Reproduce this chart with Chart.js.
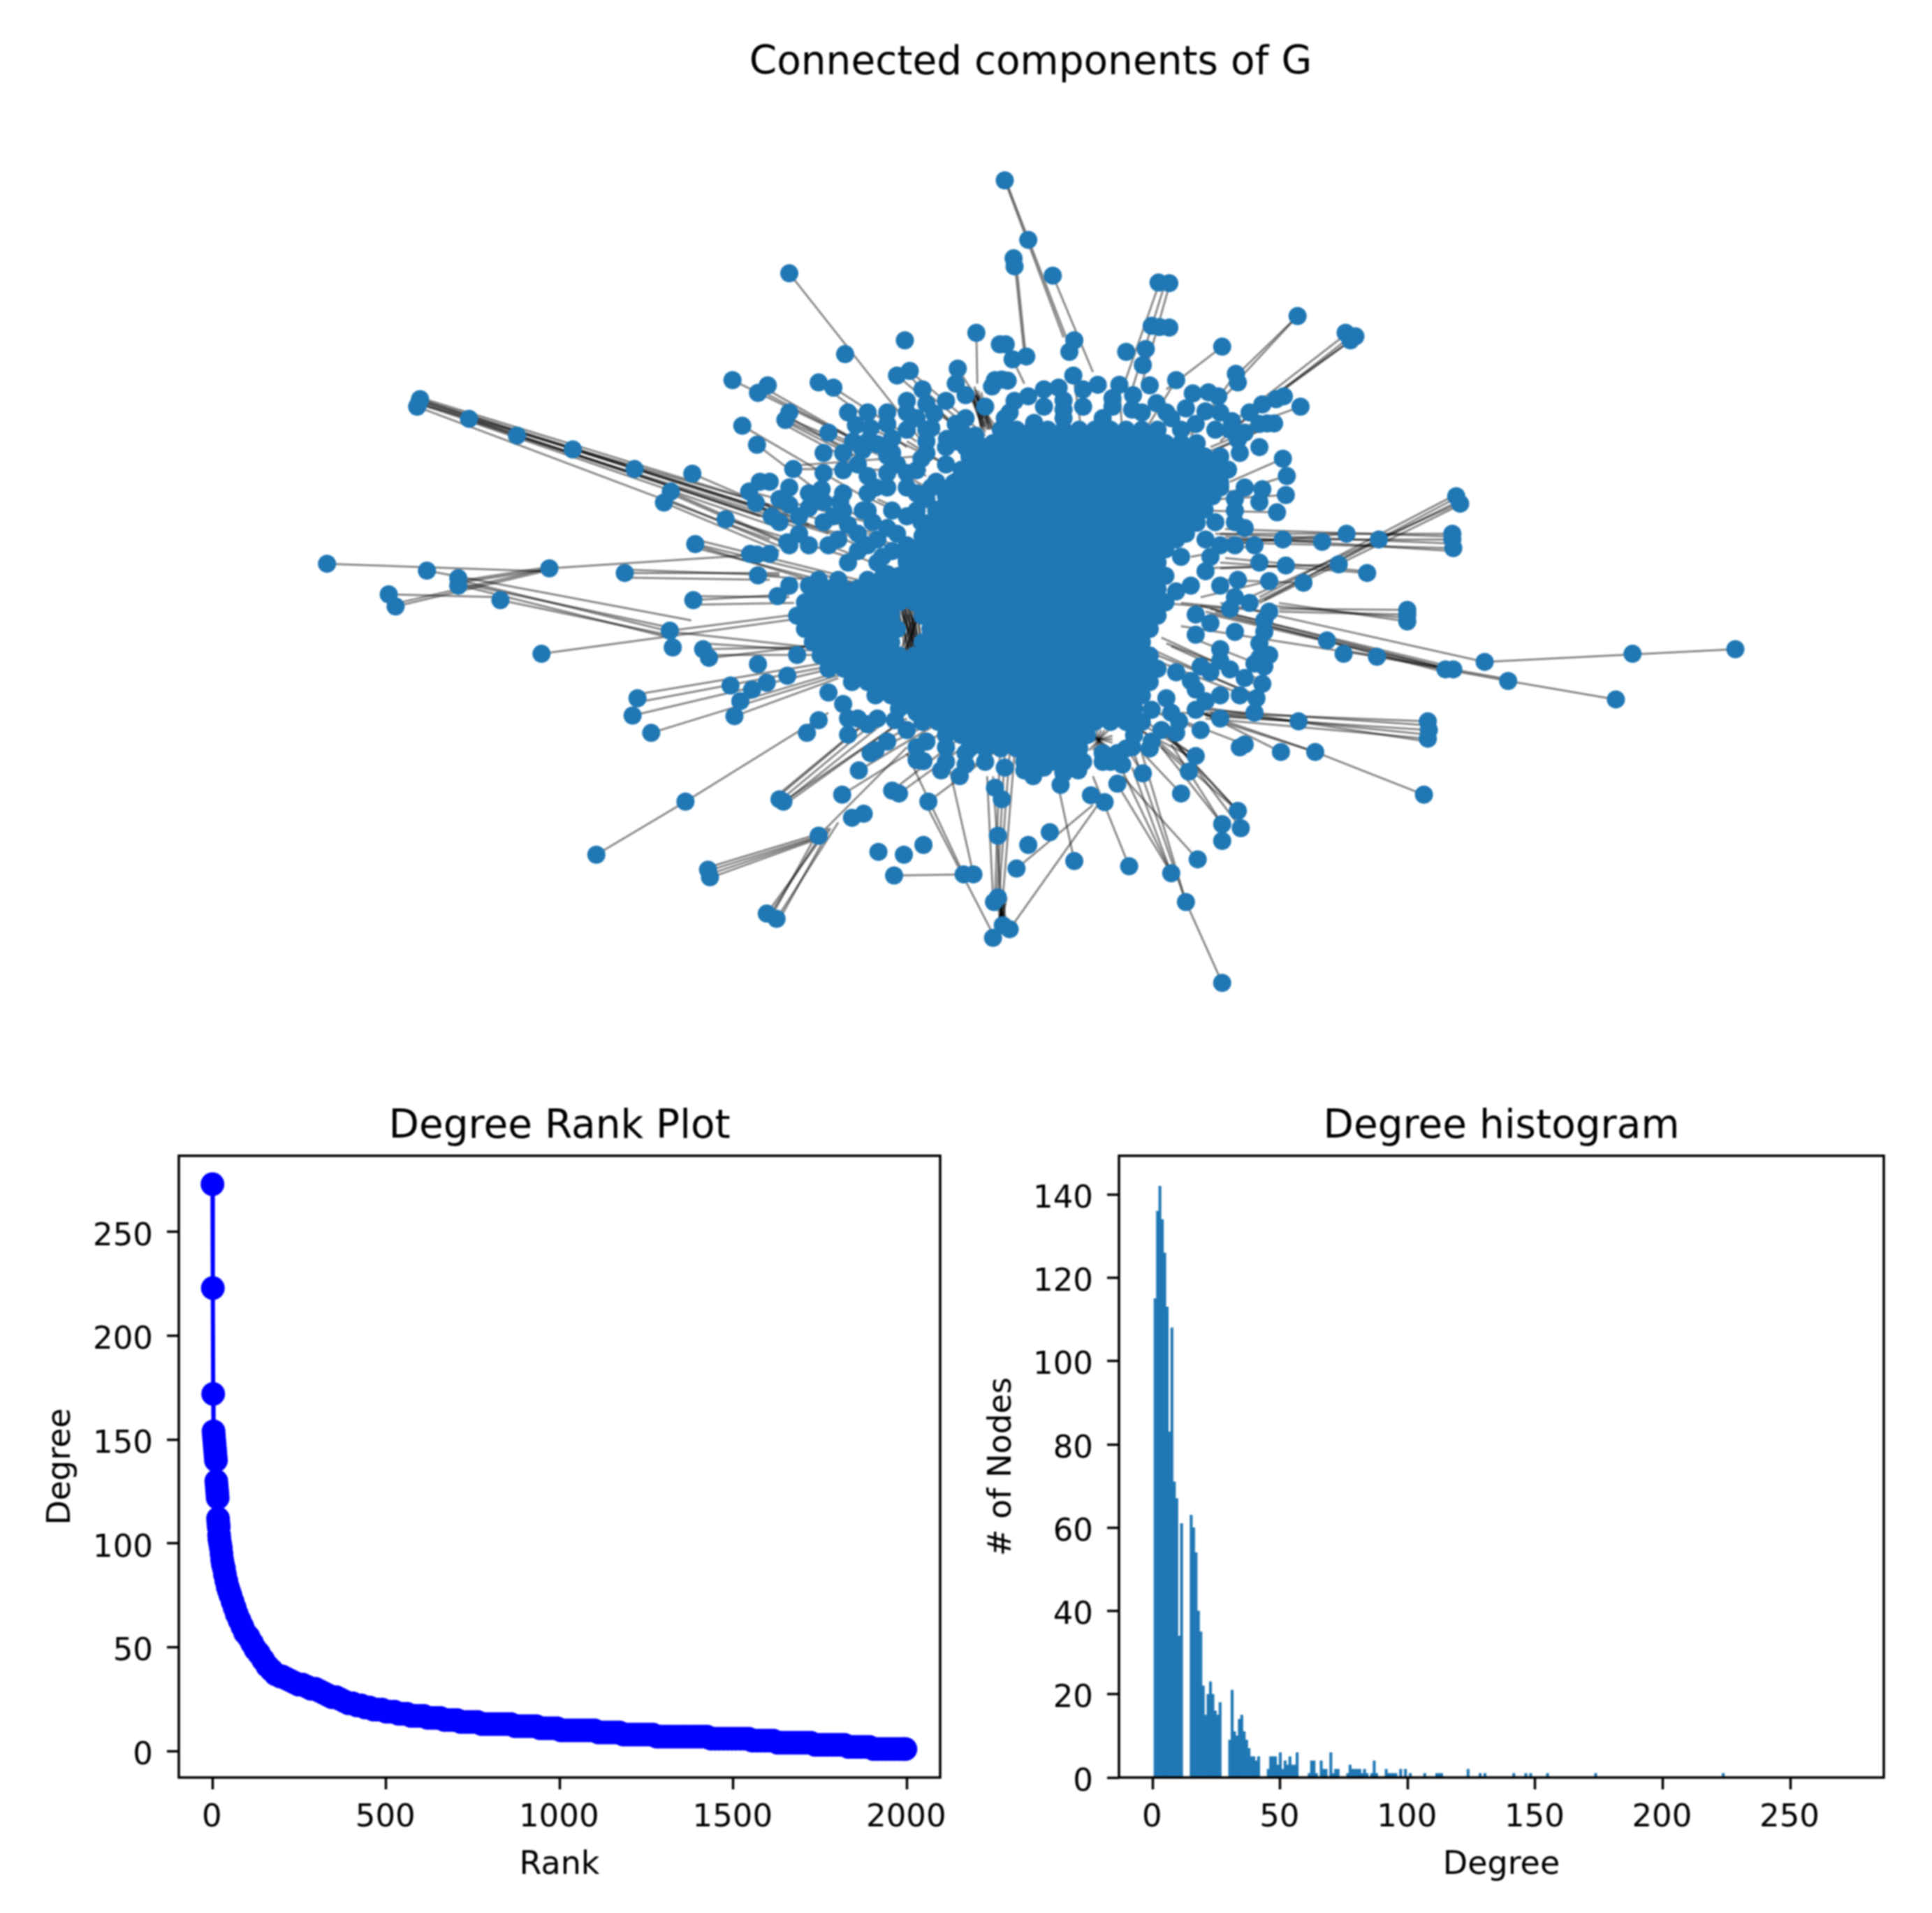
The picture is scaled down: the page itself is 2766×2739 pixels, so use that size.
<!DOCTYPE html>
<html lang="en">
<head>
<meta charset="UTF-8">
<title>Degree analysis</title>
<style>
  html,body{margin:0;background:#fff}
  canvas{position:absolute;filter:blur(0.8px)}
  #netChart{left:0;top:0}
  #rankChart{left:0;top:1560px}
  #histChart{left:1400px;top:1560px}
</style>
</head>
<body>
<canvas id="netChart" width="2766" height="1560"></canvas>
<canvas id="rankChart" width="1400" height="1179"></canvas>
<canvas id="histChart" width="1366" height="1179"></canvas>
<script src="https://cdn.jsdelivr.net/npm/chart.js"></script>
<script>
// network layout units
const outerNodes=[[740,68],[764,171],[749,203],[750,217],[789,233],[520,229],[897,245],[908,246],[1039,303],[1088,332],[1098,338],[1093,345],
[711,332],[638,345],[735,352],[741,352],[811,345],[806,365],[962,356],[864,365],[884,360],[890,320],[898,322],[908,323],[748,378],[762,373],[881,388],[577,369],
[692,394],[643,398],[630,406],[976,403],[978,418],[737,413],[743,415],[730,414],[915,414],[462,414],[498,423],[488,436],[550,418],[565,427],[656,430],
[810,406],[795,427],[835,422],[857,422],[888,423],[932,437],[948,435],[958,442],[925,463],[945,468],[1042,460],[1025,442],[1003,456],[1017,447],[1015,489],[1008,489],
[972,485],[978,517],[764,442],[727,425],[800,449],[871,440],[895,454],[472,493],[487,526],[516,483],[520,470],[588,492],[603,497],[560,505],[665,497],[668,472],
[681,516],[710,510],[740,480],[770,488],[800,480],[840,480],[920,500],[1024,550],[1028,580],[1027,613],[1003,603],[1018,643],
[143,447],[140,460],[142,453],[193,481],[242,510],[299,534],[362,568],[421,576],[524,568],[399,607],[392,626],[479,607],[486,627],[455,655],[502,650],[520,630],
[553,603],[572,625],[595,535],[625,540],[650,570],[600,580],[424,698],[518,695],[487,716],[488,752],[540,700],[590,560],[620,545],[640,575],[608,600],[575,610],
[540,635],[555,660],[580,665],[605,660],[625,640],[650,610],[670,590],[640,650],[600,700],[560,700],[530,680],[615,720],[640,700],[580,730],[550,760],[600,760],
[48,732],[150,744],[182,757],[182,770],[275,740],[352,748],[111,785],[118,806],[225,795],[422,795],[508,788],[540,770],[398,848],[401,877],[267,888],[432,880],[438,895],
[488,906],[528,890],[518,926],[497,938],[482,950],[460,943],[365,965],[360,995],[379,1025],[464,996],[470,970],[538,1025],[550,1003],[560,955],[575,975],[580,1000],
[580,1028],[628,1003],[608,1055],[603,1060],[650,990],[414,1144],[323,1236],[510,1140],[514,1144],[574,1132],[591,1090],[625,1125],[632,1130],[662,1144],[650,1072],
[657,1074],[680,1075],[694,1100],[584,1172],[596,1165],[550,1203],[437,1262],[439,1275],[611,1231],[637,1236],[657,1219],[627,1272],[698,1270],[708,1270],[752,1260],
[733,1203],[764,1219],[786,1197],[811,1247],[867,1256],[910,1268],[937,1244],[925,1318],[962,1458],[733,1310],[729,1318],[738,1358],[728,1380],[745,1365],[497,1338],
[507,1347],[730,1120],[737,1140],[769,1100],[797,1115],[828,1133],[842,1145],[855,1113],[881,1095],[920,1130],[928,1092],[935,1065],[962,1183],[962,1212],[978,1160],
[981,1190],[985,1045],[980,1050],[1022,1058],[1057,1058],[1040,1005],[1168,1132],[1172,1005],[1173,1020],[1172,1035],[940,1020],[918,1005],[935,985],[888,1052],
[1364,967],[1486,880],[1381,888],[1254,935],[1230,902],[1190,915],[1198,915],[1120,893],[1086,888],[1069,865],[1010,890],[1005,910],[995,905],[1003,940],[997,965],
[995,990],[1151,820],[1151,812],[1151,832],[1045,765],[1110,748],[1081,733],[1010,762],[978,760],[1027,735],[1197,690],[1198,705],[1197,680],[1122,690],[1064,694],
[1089,680],[1024,690],[995,700],[1201,615],[1205,628],[1010,815],[1005,850],[970,810],[960,880],[935,855],[940,910],[975,640],[985,670],[915,690],[950,720],
// crowded ring around the middle
[585,520],[610,525],[630,560],[655,550],[680,560],[600,610],[620,600],[640,600],[660,620],[600,640],[620,670],[575,640],[540,610],[555,625],[530,650],[510,660],
[520,700],[500,715],[480,715],[570,690],[590,680],[610,690],[630,680],[655,660],[660,690],[625,710],[590,710],[570,760],[545,780],[520,770],[620,750],[590,775],
[600,1010],[620,1040],[640,1020],[660,1040],[680,1050],[700,1080],[720,1075],[740,1085],[760,1090],[780,1085],[800,1095],[815,1090],[840,1060],[855,1060],[870,1050],
[890,1040],[900,1020],[915,1025],[675,1090],[700,1060],[650,1050],[610,1000],[590,1000],[840,1075],[820,1075],[860,1080],
[960,600],[975,620],[985,600],[1000,625],[975,660],[955,660],[945,690],[960,700],[975,700],[925,680],[920,720],[945,745],[960,770],[1000,730],[930,770],[915,780],
[935,820],[950,835],[975,790],[990,800],[1005,830],[975,850],[1000,870],[960,900],[950,920],[930,935],[915,920],[970,915],[985,930],[1000,895],[980,960],[960,960],
[935,950],[905,965],[890,985],[910,990],[960,1000],[945,970],
[700,480],[720,460],[750,450],[780,460],[820,460],[850,460],[880,470],[905,470],[935,490],[955,500],[985,505],[1000,490],[1000,530],[980,540],[970,500],[650,480],
[690,490],[700,510],[660,520],[640,500],[625,515],[700,530],[680,530],[660,540],[820,430],[850,445],[780,430],[745,470],[800,465],[870,465],[910,480],[960,470],[990,470],
[700,440],[690,420],[680,450],[660,455],[640,450],[620,470],[600,470],[580,470],[640,470],[660,500],[690,520],[620,490],[600,520],[575,540],[555,540],[575,570],
[555,575],[620,575],[665,600],[690,590],[680,610],[670,640],[650,640],[655,700],[640,725],[610,730],[595,640],[565,650],[520,600],[510,620],[500,590],[490,590]];

// the dense middle, nodes can't be told apart there so these only estimate it
const coreRowY=[500,523,546,569,592,615,638,661,684,707,730,753,776,799,822,845,868,891,914,937,960,983,1006,1029,1052,1075];
const coreRowX=[
[736,752,768,784,800,816,832,848,864,880,896],
[712,728,744,760,776,792,808,824,840,856,872,888,904,920,936],
[704,720,736,752,768,784,800,816,832,848,864,880,896,912,928,944,960],
[696,712,728,744,760,776,792,808,824,840,856,872,888,904,920,936,952,968],
[688,704,720,736,752,768,784,800,816,832,848,864,880,896,912,928,944,960],
[680,696,712,728,744,760,776,792,808,824,840,856,872,888,904,920,936,952],
[672,688,704,720,736,752,768,784,800,816,832,848,864,880,896,912,928,944],
[664,680,696,712,728,744,760,776,792,808,824,840,856,872,888,904,920,936],
[656,672,688,704,720,736,752,768,784,800,816,832,848,864,880,896,912],
[648,664,680,696,712,728,744,760,776,792,808,824,840,856,872,888,904],
[640,656,672,688,704,720,736,752,768,784,800,816,832,848,864,880,896],
[616,632,648,664,680,696,712,728,744,760,776,792,808,824,840,856,872,888,904],
[560,576,592,608,624,640,656,672,688,704,720,736,752,768,784,800,816,832,848,864,880,896],
[536,552,568,584,600,616,632,648,664,680,696,712,728,744,760,776,792,808,824,840,856,872,888,904],
[528,544,560,576,592,608,624,656,672,688,704,720,736,752,768,784,800,816,832,848,864,880,896],
[536,552,568,584,600,616,630,664,680,696,712,728,744,760,776,792,808,824,840,856,872,888],
[544,560,576,592,608,624,656,672,688,704,720,736,752,768,784,800,816,832,848,864,880],
[552,568,584,600,616,632,648,664,680,696,712,728,744,760,776,792,808,824,840,856,872,888],
[560,576,592,608,624,640,656,672,688,704,720,736,752,768,784,800,816,832,848,864,880,896],
[584,600,616,632,648,664,680,696,712,728,744,760,776,792,808,824,840,856,872,888],
[608,624,640,656,672,688,704,720,736,752,768,784,800,816,832,848,864,880],
[632,648,664,680,696,712,728,744,760,776,792,808,824,840,856,872],
[656,672,688,704,720,736,752,768,784,800,816,832,848,864,880],
[680,696,712,728,744,760,776,792,808,824,872],
[704,720,736,752,768,784,800,816,864],
[760,776,792,808,848]];

// visible edges as x1,y1,x2,y2 in layout units
const edgeLines=[[740,68,800,340],[741,68,805,350],[750,209,760,370],[752,215,762,380],[789,233,830,400],[520,229,660,530],
[897,250,860,430],[903,250,870,430],[908,250,880,420],[1039,303,980,400],[1039,303,975,420],[1088,335,970,490],[1092,340,975,495],[1096,342,985,480],[1098,340,990,470],
[962,356,905,430],[711,332,712,420],[740,350,760,420],[143,447,520,650],[142,450,500,640],[141,455,510,660],[140,460,500,690],[143,453,530,670],[193,481,490,650],[193,485,510,670],
[145,450,540,665],[144,456,520,640],[146,446,500,630],[240,510,560,680],[300,534,500,640],
[421,576,590,700],[399,607,510,690],[398,610,520,700],[395,620,515,705],[392,626,510,710],[455,655,580,720],[424,698,600,770],[424,690,590,760],[425,705,610,785],[424,700,580,780],
[48,732,270,745],[150,744,420,830],[182,760,400,850],[182,765,405,845],[185,770,398,860],[225,795,395,855],[400,850,560,880],[275,740,500,715],[275,740,120,800],[111,785,225,790],
[118,806,270,745],[182,765,270,742],[190,760,272,738],[352,742,510,752],[352,748,510,748],[352,756,500,760],[422,788,520,790],[422,795,520,785],[422,803,525,800],[267,888,560,820],
[398,848,550,815],[432,870,570,885],[435,880,570,875],[437,890,565,890],[440,895,560,870],[365,958,570,900],[365,972,575,905],[360,995,560,915],[379,1025,580,920],[464,996,570,930],[470,970,580,915],
[323,1236,414,1144],[414,1144,560,990],[510,1130,610,990],[512,1140,615,995],[514,1146,622,1000],[508,1136,600,1005],[514,1144,640,1000],[516,1148,630,1010],
[437,1258,550,1200],[437,1264,552,1203],[438,1270,548,1207],[439,1276,550,1208],[550,1203,640,1050],[497,1338,560,1190],[500,1340,555,1195],[502,1342,548,1200],[507,1347,570,1180],[510,1348,562,1190],
[627,1272,700,1270],[698,1270,640,1060],[708,1270,680,1060],[730,1310,735,1060],[732,1310,740,1060],[734,1310,745,1060],[736,1310,728,1100],[738,1310,750,1060],[728,1310,722,1100],
[730,1380,660,1150],[745,1365,835,1150],[752,1260,830,1150],[925,1318,870,1050],[925,1318,880,1060],[962,1458,925,1318],[910,1268,860,1090],[910,1268,870,1085],[910,1268,850,1100],
[867,1256,830,1100],[811,1247,790,1080],[937,1244,860,1100],[962,1183,900,1050],[962,1183,910,1045],[978,1160,890,1030],[978,1160,900,1020],[978,1160,910,1035],[981,1190,910,1030],
[1168,1132,1057,1058],[1057,1058,940,990],[1057,1058,950,1000],[1172,1005,945,990],[1172,1012,945,985],[1173,1020,945,995],[1172,1028,950,990],[1172,1035,945,1000],[1172,1040,940,980],
[1364,967,1254,935],[1254,935,1120,893],[1254,932,1080,880],[1120,893,920,840],[1486,880,1230,902],[1190,908,950,810],[1190,912,945,815],[1195,915,940,805],[1198,918,950,820],[1190,920,955,815],[1230,902,960,800],
[1151,812,1020,810],[1151,820,1020,815],[1151,826,1015,805],[1151,832,1020,800],[1197,680,960,680],[1197,685,965,672],[1197,690,960,690],[1197,697,955,680],[1198,705,960,695],[1198,710,965,685],
[1201,612,1000,790],[1203,616,1005,795],[1205,622,995,800],[1203,628,990,790],[1205,630,1000,800],[1110,748,960,730],[1110,745,965,722],[1081,733,960,740],[1027,735,940,740],[1045,765,960,760],
[1024,550,970,590],[1028,580,970,610],[1027,613,960,620],[1042,460,960,510],[1015,485,950,530],[1015,489,955,535],[1015,492,945,540],[1003,456,960,520],
[705,440,722,500],[708,440,724,500],[711,440,726,500],[714,440,728,500],[706,445,718,500],[712,445,716,505],[710,440,730,505],[708,450,720,505],
[704,430,720,495],[707,432,716,495],[710,430,722,490],[713,432,718,495],[716,435,724,498],[709,425,718,480],
[516,483,590,540],[516,486,585,545],[518,480,595,535],[520,478,590,548],[514,490,580,550],[488,430,590,520],[492,425,585,515],[472,493,590,610],[487,526,560,620],[524,568,660,570],[524,562,660,545],
[640,400,700,520],[1005,910,930,860],[1003,940,900,860],[1003,934,905,870],[1003,946,910,875],[1000,965,890,880],[998,960,895,890],[1000,970,880,890],[935,1065,870,1000],[930,1060,875,995],[935,1070,865,1010],
[1040,1005,920,990],[1010,815,920,800],
[600,1055,700,960],[603,1060,710,970],[591,1090,700,980],[625,1125,720,1000],[632,1130,730,1010],[574,1132,690,1010],[662,1144,760,1020],[694,1100,740,1040],
[881,1095,860,1040],[928,1092,880,1020],[920,1130,870,1040],[985,1045,900,990],[1022,1058,930,980],[940,1020,880,980],
[1003,603,940,610],[1018,643,940,640],[1064,694,950,690],[1089,680,950,700],[1010,762,940,790],[970,810,900,800],[995,700,930,720],
[656,430,720,520],[692,394,740,520],[643,398,720,510],[630,406,710,520],[810,406,820,520],[857,422,860,510],[925,463,880,520],[976,403,930,510],[978,418,920,520],[915,414,880,510],
[462,414,590,520],[550,418,640,530],[565,427,650,520],[603,497,680,560],[560,505,660,580],[479,607,600,660],[486,627,610,680],[502,650,620,700],[488,752,620,770],[540,770,640,780],
[640,520,720,600],[620,560,700,640],[590,610,680,680],[580,640,670,720],[560,700,650,760],[600,680,680,740],[650,480,720,560],[670,470,730,540],[610,620,700,690],[630,690,700,760],
// dark patches where edges pile up
[630,790,640,905],[633,790,643,905],[636,790,646,905],[639,790,649,905],[642,790,652,905],[645,790,655,905],[648,790,658,905],[628,800,646,900],[634,800,652,900],[640,800,658,895],
[636,805,640,895],[639,805,643,895],[642,805,646,895],[645,805,649,895],[648,805,652,895],[651,805,655,895],[634,815,650,880],[650,815,634,880],[638,810,654,885],[654,810,638,885],
[637,820,645,880],[641,820,649,880],[644,820,652,880],[648,820,644,880],[652,820,640,880],
[738,1310,735,1360],[735,1310,738,1360],[733,1310,740,1360],[730,1310,742,1360],[740,1310,732,1360],[742,1310,736,1360],[736,1312,736,1362],[738,1312,742,1362],[732,1312,744,1362],
[734,1320,738,1352],[737,1320,735,1352],[740,1320,738,1352],[732,1320,736,1352],[736,1318,740,1354],[739,1318,733,1354],
[822,1020,850,1055],[826,1020,846,1055],[830,1020,842,1055],[834,1020,838,1055],[838,1020,834,1055],[842,1020,830,1055],[846,1020,826,1055],[824,1036,850,1036],[824,1030,850,1042],[824,1042,850,1030]];

const netXRange=[-144.7,1677.5];
const netYRange=[-75.3,1627];

const rankX=[0,1,2,3,4,5,6,7,8,9,10,11,12,13,14,15,16,17,18,19,20,22,24,26,28,30,33,36,40,44,48,52,58,64,70,78,86,94,104,114,124,134,146,158,170,182,195,
200,212,224,236,248,260,272,284,296,308,
320,332,344,356,368,380,392,404,416,428,
440,452,464,476,488,500,512,524,536,548,
560,572,584,596,608,620,632,644,656,668,
680,692,704,716,728,740,752,764,776,788,
800,812,824,836,848,860,872,884,896,908,
920,932,944,956,968,980,992,1004,1016,1028,
1040,1052,1064,1076,1088,1100,1112,1124,1136,1148,
1160,1172,1184,1196,1208,1220,1232,1244,1256,1268,
1280,1292,1304,1316,1328,1340,1352,1364,1376,1388,
1400,1412,1424,1436,1448,1460,1472,1484,1496,1508,
1520,1532,1544,1556,1568,1580,1592,1604,1616,1628,
1640,1652,1664,1676,1688,1700,1712,1724,1736,1748,
1760,1772,1784,1796,1808,1820,1832,1844,1856,1868,
1880,1892,1904,1916,1928,1940,1952,1964,1976,1988,1996];
const rankY=[273,223,172,154,152,150,148,146,144,142,140,130,128,126,124,122,112,110,108,104,102,100,98,95,92,90,88,85,82,79,77,75,72,69,66,63,60,57,55,52,49,47,44,41,39,37,36,
36,35,34,33,32,32,31,30,30,29,
28,27,26,26,25,24,23,23,22,22,
21,21,20,20,20,19,19,19,18,18,
18,17,17,17,17,16,16,16,16,15,
15,15,15,14,14,14,14,14,13,13,
13,13,13,13,13,13,12,12,12,12,
12,12,11,11,11,11,11,10,10,10,
10,10,10,10,10,10,9,9,9,9,
9,9,8,8,8,8,8,8,8,8,
7,7,7,7,7,7,7,7,7,7,
7,7,7,6,6,6,6,6,6,6,
6,6,6,5,5,5,5,5,5,4,
4,4,4,4,4,4,4,4,3,3,
3,3,3,3,3,3,2,2,2,2,
2,2,1,1,1,1,1,1,1,1,1];
const rankXTicks=[0,500,1000,1500,2000];
const rankYTicks=[0,50,100,150,200,250];

// bars touch and are a bit under one degree wide, so keep them as bins
const histFirstBin=0.97;
const histBinWidth=0.944;
const histBins=[0,1,2,3,4,5,6,7,8,9,10,11,15,16,17,18,19,20,21,22,23,24,25,26,27,31,32,33,34,35,36,37,38,39,40,41,42,43,47,48,49,50,51,52,53,54,55,56,57,58,59,
64,65,66,67,69,70,71,73,74,75,76,80,81,82,83,84,85,86,87,88,90,91,92,96,97,98,99,100,102,104,106,112,117,118,119,130,135,137,149,154,156,163,183,236];
const histCounts=[115,136,142,134,126,113,83,108,71,67,34,61,63,60,54,40,35,22,15,20,23,20,16,15,18,9,21,11,10,14,15,11,9,7,5,5,4,5,2,5,5,5,3,6,2,4,3,5,3,3,6,
1,4,4,1,4,2,2,6,1,2,2,1,3,2,2,2,2,1,2,1,1,4,1,2,1,1,1,1,2,2,1,1,1,1,1,2,1,1,1,1,1,1,1,1];
const histXTicks=[0,50,100,150,200,250];
const histYTicks=[0,20,40,60,80,100,120,140];

const FONT='"DejaVu Sans"';

const boxPlugin={id:'box',afterDraw(c){
  const a=c.chartArea;
  c.ctx.save();
  c.ctx.strokeStyle='#000';
  c.ctx.lineWidth=3.5;
  c.ctx.strokeRect(a.left,a.top,a.right-a.left,a.bottom-a.top);
  c.ctx.restore();
}};

function titleOpts(text,top,bottom){
  return {display:true,text:text,color:'#000',fullSize:false,font:{family:FONT,size:56.5,weight:'normal',lineHeight:1.2},padding:{top:top,bottom:bottom}};
}

function axis(min,max,ticks,title,titlePad,isX,size){
  return {
    type:'linear',min:min,max:max,offset:false,
    afterBuildTicks(s){s.ticks=ticks.map(v=>({value:v}))},
    afterFit(s){if(isX){s.height=size}else{s.width=size}},
    grid:{display:true,offset:false,drawOnChartArea:false,drawTicks:true,tickLength:17,tickWidth:3.5,tickColor:'#000'},
    border:{display:false},
    ticks:{color:'#000',padding:isX?14:20,labelOffset:isX?-1:7,autoSkip:false,maxRotation:0,font:{family:FONT,size:45},callback:v=>String(v)},
    title:{display:true,text:title,color:'#000',font:{family:FONT,size:46,lineHeight:1.2},padding:titlePad}
  };
}

function baseOptions(){
  return {responsive:false,animation:false,devicePixelRatio:1,events:[]};
}

// network
const coreNodes=[];
coreRowY.forEach((y,r)=>coreRowX[r].forEach(x=>coreNodes.push({x:x,y:y})));
const netSets=[{
  data:outerNodes.map(n=>({x:n[0],y:n[1]})).concat(coreNodes),
  pointRadius:13,pointBackgroundColor:'#1f77b4',pointBorderWidth:0,showLine:false
}];
edgeLines.forEach(e=>netSets.push({
  data:[{x:e[0],y:e[1]},{x:e[2],y:e[3]}],
  showLine:true,pointRadius:0,borderColor:'rgba(0,0,0,0.45)',borderWidth:3
}));
new Chart(document.getElementById('netChart'),{
  type:'scatter',
  data:{datasets:netSets},
  options:Object.assign(baseOptions(),{
    layout:{padding:{left:198,right:0,top:0,bottom:0}},
    plugins:{legend:{display:false},tooltip:{enabled:false},title:titleOpts('Connected components of G',57,15)},
    scales:{
      x:{type:'linear',display:false,min:netXRange[0],max:netXRange[1]},
      y:{type:'linear',display:false,min:netYRange[0],max:netYRange[1],reverse:true}
    }
  })
});

// degree rank
new Chart(document.getElementById('rankChart'),{
  type:'scatter',
  data:{datasets:[{
    data:rankX.map((x,i)=>({x:x,y:rankY[i]})),
    showLine:true,borderColor:'#0000ff',borderWidth:6,
    pointRadius:17,pointBackgroundColor:'#0000ff',pointBorderWidth:0
  }]},
  options:Object.assign(baseOptions(),{
    layout:{padding:{right:54}},
    plugins:{legend:{display:false},tooltip:{enabled:false},title:titleOpts('Degree Rank Plot',20,7)},
    scales:{
      x:axis(-97,2096,rankXTicks,'Rank',{bottom:40},true,194),
      y:axis(-12.7,286.7,rankYTicks,'Degree',{top:60},false,256)
    }
  }),
  plugins:[boxPlugin]
});

// degree histogram
new Chart(document.getElementById('histChart'),{
  type:'bar',
  data:{datasets:[{
    data:histBins.map((b,i)=>({x:histFirstBin+b*histBinWidth,y:histCounts[i]})),
    backgroundColor:'#1f77b4',borderWidth:0,barThickness:3.42
  }]},
  options:Object.assign(baseOptions(),{
    layout:{padding:{right:69}},
    plugins:{legend:{display:false},tooltip:{enabled:false},title:titleOpts('Degree histogram',20,7)},
    scales:{
      x:axis(-13.2,286.7,histXTicks,'Degree',{bottom:40},true,194),
      y:axis(0,149.3,histYTicks,'# of Nodes',{top:7},false,202)
    }
  }),
  plugins:[boxPlugin]
});
</script>
</body>
</html>
